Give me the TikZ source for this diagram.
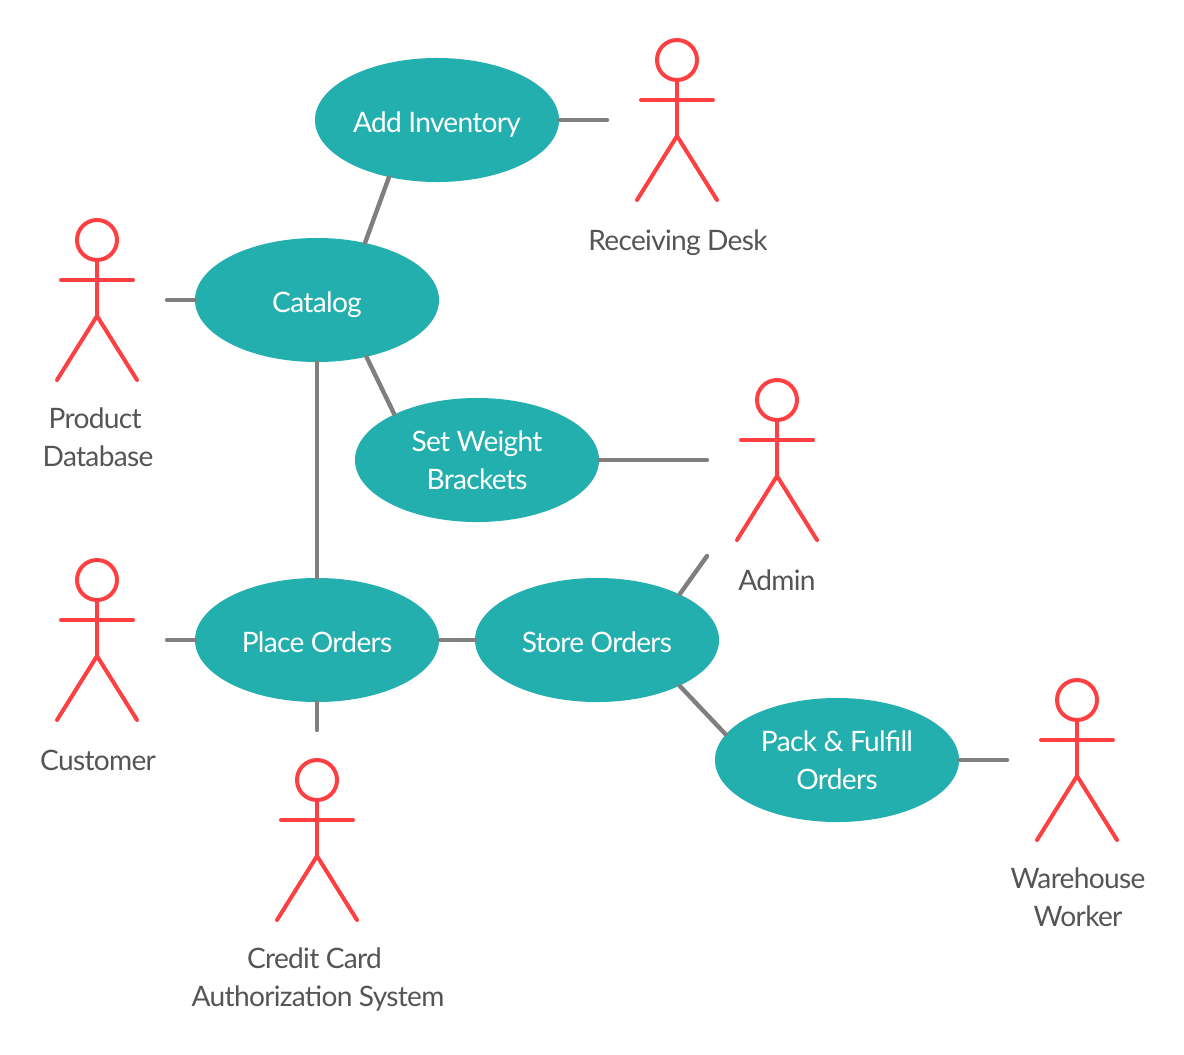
\documentclass[tikz,border=0pt]{standalone}
\usepackage{fontspec}
\setmainfont[LetterSpace=-2.5]{Lato}
\usetikzlibrary{shapes.geometric}
\definecolor{caseteal}{HTML}{23AFAE}
\definecolor{actorred}{HTML}{FF4043}
\definecolor{linkgray}{HTML}{7F7F7F}
\definecolor{labelgray}{HTML}{555555}
\tikzset{
  usecase/.style={ellipse, fill=caseteal, text=white, minimum width=6.1cm, minimum height=3.1cm,
    inner sep=0pt, align=center, font=\fontsize{20}{27}\selectfont},
  oneline/.style={text height=18pt, text depth=0pt},
  actorlabel/.style={text=labelgray, align=center, font=\fontsize{20}{27}\selectfont},
  link/.style={draw=linkgray, line width=1.1mm, line cap=round},
  stick/.style={draw=actorred, line width=1mm, line cap=round}
}

\begin{document}
\begin{tikzpicture}[x=0.025cm, y=-0.025cm]
  \useasboundingbox[fill=white] (0,0) rectangle (1184,1054);

  % ---------------- actors ----------------
  \foreach \x/\y in {677/60,97/240,777/400,97/580,317/780,1077/700}{
    \begin{scope}[shift={(\x,\y)}]
      \draw[stick] (0,0) circle (20);
      \draw[stick] (0,20) -- (0,76);
      \draw[stick] (-36,40) -- (36,40);
      \draw[stick] (-40,140) -- (0,76) -- (40,140);
    \end{scope}
  }
  \node[actorlabel] (recvlabel)   at (678,243) {Receiving Desk};
  \node[actorlabel] (prodlabel)   at (98,437)  {Product\kern4pt\\Database};
  \node[actorlabel] (adminlabel)  at (777,580) {Admin};
  \node[actorlabel] (custlabel)   at (98,760)  {Customer};
  \node[actorlabel] (creditlabel) at (318,980) {Credit Card\kern5pt\\Authorization System};
  \node[actorlabel] (warelabel)   at (1078,897) {Warehouse\\Worker};

  % ---------------- use cases ----------------
  \node[usecase, oneline] (addinv)  at (437,120) {Add Inventory};
  \node[usecase, oneline] (catalog) at (317,300) {Catalog};
  \node[usecase]          (weight)  at (477,460) {Set Weight\\Brackets};
  \node[usecase, oneline] (place)   at (317,640) {Place Orders};
  \node[usecase, oneline] (store)   at (597,640) {Store Orders};
  \node[usecase]          (pack)    at (837,760) {Pack \& Fulfill\\Orders};

  % ---------------- free ends towards the actors ----------------
  \coordinate (recvend)   at (607,120);
  \coordinate (prodend)   at (167,300);
  \coordinate (adminend)  at (707,460);
  \coordinate (adminend2) at (707,556);
  \coordinate (custend)   at (167,640);
  \coordinate (creditend) at (317,730);
  \coordinate (wareend)   at (1007,760);

  % ---------------- links ----------------
  \draw[link] (addinv.east) -- (recvend);
  \draw[link] (addinv.230) -- (catalog.50);
  \draw[link] (catalog.west) -- (prodend);
  \draw[link] (catalog.south) -- (place.north);
  \draw[link] (catalog.-49) -- (weight.151);
  \draw[link] (weight.east) -- (adminend);
  \draw[link] (place.west) -- (custend);
  \draw[link] (place.south) -- (creditend);
  \draw[link] (place.east) -- (store.west);
  \draw[link] (store.29) -- (adminend2);
  \draw[link] (store.-29) -- (pack.167);
  \draw[link] (pack.east) -- (wareend);
\end{tikzpicture}
\end{document}
